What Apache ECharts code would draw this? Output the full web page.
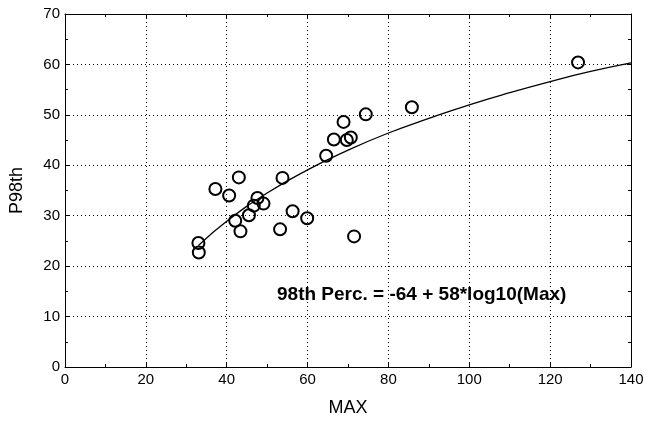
<!DOCTYPE html>
<html>
<head>
<meta charset="utf-8">
<script src="https://cdn.jsdelivr.net/npm/echarts@6/dist/echarts.min.js"></script>
<style>
    html, body { margin: 0; padding: 0; background: #fff; }
    #chart { width: 648px; height: 422px; }
</style>
</head>
<body>
<div id="chart"></div>
<script>
// 观测点 (MAX, P98th)
var maxVals = [64.6, 43.0, 53.8, 37.2, 40.6, 47.6, 46.7, 49.1, 56.3, 45.5, 59.9, 42.1,
    43.4, 53.2, 71.5, 33.0, 33.1, 85.8, 126.9, 66.5, 68.9, 69.7, 70.7, 74.4];
var p98Vals = [41.9, 37.6, 37.5, 35.3, 34.0, 33.5, 32.0, 32.4, 30.9, 30.1, 29.5, 29.0,
    26.9, 27.3, 25.9, 24.6, 22.7, 51.5, 60.4, 45.1, 48.6, 45.0, 45.5, 50.1];
// 拟合曲线
var fitX = [33, 40, 50, 60, 70, 80, 90, 100, 110, 120, 130, 140];
var fitY = [24.1, 28.9, 34.5, 39.1, 43.0, 46.4, 49.3, 52.0, 54.4, 56.6, 58.6, 60.3];
var fitLabel = '98th Perc. = -64 + 58*log10(Max)';

var chart = echarts.init(document.getElementById('chart'));
var font = 'Liberation Sans, Arial, sans-serif';

function axisBase(show) {
    return {
        axisLine: { show: true, onZero: false, lineStyle: { color: '#000', width: 1 } },
        axisTick: { show: true, inside: true, length: 4, lineStyle: { color: '#000' } },
        minorTick: { show: true, splitNumber: 2, length: 3, lineStyle: { color: '#000' } },
        axisLabel: { show: show, color: '#000', fontFamily: font, fontSize: 15 },
        splitLine: { show: false }
    };
}

var xBottom = Object.assign(axisBase(true), {
    type: 'value', min: 0, max: 140, interval: 20, position: 'bottom',
    name: 'MAX', nameLocation: 'middle', nameGap: 32,
    nameTextStyle: { color: '#000', fontFamily: font, fontSize: 18 },
    splitLine: { show: true, lineStyle: { color: '#000', type: [1, 3], width: 1 } }
});
xBottom.axisLabel.margin = 5;
var xTop = Object.assign(axisBase(false), {
    type: 'value', min: 0, max: 140, interval: 20, position: 'top'
});
var yLeft = Object.assign(axisBase(true), {
    type: 'value', min: 0, max: 70, interval: 10, position: 'left',
    name: 'P98th', nameLocation: 'middle', nameGap: 39,
    nameTextStyle: { color: '#000', fontFamily: font, fontSize: 18 },
    splitLine: { show: true, lineStyle: { color: '#000', type: [1, 3], width: 1 } }
});
yLeft.axisLabel.margin = 5;
var yRight = Object.assign(axisBase(false), {
    type: 'value', min: 0, max: 70, interval: 10, position: 'right'
});

var option = {
    animation: false,
    backgroundColor: '#fff',
    grid: { left: 65, right: 17, top: 14, bottom: 54, containLabel: false },
    xAxis: [xBottom, xTop],
    yAxis: [yLeft, yRight],
    series: [
        {
            name: 'fit',
            type: 'line',
            data: fitX.map(function (x, i) { return [x, fitY[i]]; }),
            smooth: true,
            showSymbol: false,
            lineStyle: { color: '#000', width: 1.3 },
            z: 2
        },
        {
            name: 'points',
            type: 'scatter',
            data: maxVals.map(function (x, i) { return [x, p98Vals[i]]; }),
            symbol: 'circle',
            symbolSize: 12,
            itemStyle: { color: 'rgba(255,255,255,0)', borderColor: '#000', borderWidth: 2, opacity: 1 },
            z: 3
        }
    ],
    graphic: [{
        type: 'text',
        x: 277,
        y: 295,
        style: {
            text: fitLabel,
            fill: '#000',
            font: 'bold 19px ' + font,
            verticalAlign: 'middle'
        }
    }]
};
chart.setOption(option);
</script>
</body>
</html>
